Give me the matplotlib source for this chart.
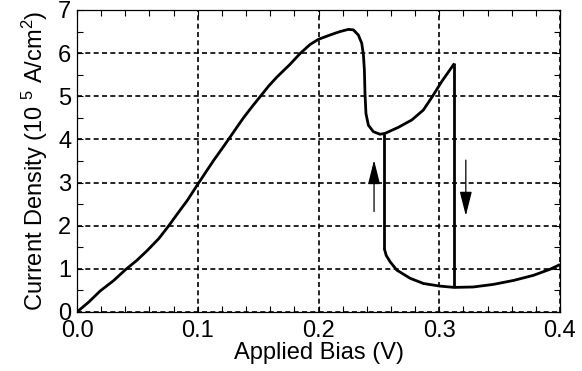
import matplotlib
matplotlib.use("Agg")
import matplotlib.pyplot as plt
from matplotlib.ticker import MultipleLocator, FormatStrFormatter

plt.rcParams['font.family'] = ['Liberation Sans', 'DejaVu Sans']
plt.rcParams['mathtext.fontset'] = 'custom'
plt.rcParams['mathtext.rm'] = 'Liberation Sans'
plt.rcParams['mathtext.it'] = 'Liberation Sans'

# Forward sweep (upper branch), bias in V, current density in 1e5 A/cm^2
v_fwd = [0.0, 0.0097, 0.0193, 0.0304, 0.0401, 0.0497, 0.0580, 0.0677, 0.0760,
         0.0843, 0.0912, 0.1000, 0.1064, 0.1133, 0.1202, 0.1257, 0.1326,
         0.1381, 0.1450, 0.1519, 0.1588, 0.1657, 0.1764, 0.1847, 0.1930,
         0.1999, 0.2095, 0.2178, 0.2247, 0.2289, 0.2330, 0.2358, 0.2372,
         0.2380, 0.2385, 0.2393, 0.2413, 0.2454, 0.2509, 0.2551, 0.2661,
         0.2772, 0.2868, 0.2942, 0.3020, 0.3125]
j_fwd = [0.0, 0.23, 0.49, 0.73, 0.98, 1.20, 1.42, 1.70, 2.00,
         2.32, 2.58, 2.96, 3.23, 3.52, 3.79, 4.01, 4.29,
         4.51, 4.76, 5.00, 5.24, 5.45, 5.74, 5.99, 6.20,
         6.32, 6.42, 6.50, 6.55, 6.54, 6.42, 6.23, 5.96,
         5.61, 5.07, 4.60, 4.33, 4.18, 4.12, 4.14, 4.28,
         4.45, 4.68, 4.99, 5.34, 5.76]

# Lower (high-bias) branch
v_low = [0.2545, 0.2561, 0.2594, 0.2649, 0.276, 0.287, 0.3006, 0.3125,
         0.3282, 0.3448, 0.3613, 0.378, 0.3917, 0.400]
j_low = [1.47, 1.31, 1.16, 0.97, 0.78, 0.66, 0.60, 0.57,
         0.58, 0.64, 0.73, 0.85, 0.99, 1.10]

# Switching points
v_switch_down = 0.3125
j_switch_down = [5.76, 0.57]
v_switch_up = 0.2545
j_switch_up = [1.47, 4.13]

# Sweep direction arrows (x, y_start, y_end)
arrow_up = (0.246, 2.33, 3.52)
arrow_down = (0.322, 3.52, 2.23)

x_ticks = [0.0, 0.1, 0.2, 0.3, 0.4]
y_ticks = [0, 1, 2, 3, 4, 5, 6, 7]

fig = plt.figure(figsize=(5.82, 3.71), dpi=100)
ax = fig.add_axes([77/582, 1 - 312/371, (560 - 77)/582, (312 - 10)/371])

lw = 2.0
kw = dict(color='black', lw=lw, solid_joinstyle='round', solid_capstyle='butt', zorder=3)
ax.plot(v_fwd, j_fwd, **kw)
ax.plot(v_low, j_low, **kw)
ax.plot([v_switch_down, v_switch_down], j_switch_down, **kw)
ax.plot([v_switch_up, v_switch_up], j_switch_up, **kw)

for (xa, y0, y1) in (arrow_up, arrow_down):
    ax.annotate('', xy=(xa, y1), xytext=(xa, y0),
                arrowprops=dict(arrowstyle='-|>,head_length=1.0,head_width=0.25',
                                mutation_scale=15, lw=0.9, color='black',
                                shrinkA=0, shrinkB=0), zorder=4)

ax.set_xlim(0, 0.4)
ax.set_ylim(0, 7)
ax.set_xticks(x_ticks)
ax.set_yticks(y_ticks)
ax.xaxis.set_major_formatter(FormatStrFormatter('%.1f'))
ax.xaxis.set_minor_locator(MultipleLocator(0.02))
ax.yaxis.set_minor_locator(MultipleLocator(0.5))
ax.tick_params(which='both', direction='in', top=True, right=True,
               length=4, width=0.8, labelsize=17, color='black')
ax.tick_params(axis='x', pad=6)
ax.tick_params(axis='y', pad=4)
ax.grid(True, which='major', color='black', linestyle=(0, (3, 2)), lw=1.2)
for s in ax.spines.values():
    s.set_linewidth(0.9)

ax.set_xlabel('Applied Bias (V)', fontsize=17, labelpad=0)
ax.set_ylabel('Current Density (10 $^{5}$ A/cm$^{2}$)', fontsize=17, labelpad=6)

fig.savefig('out.png', dpi=100)
